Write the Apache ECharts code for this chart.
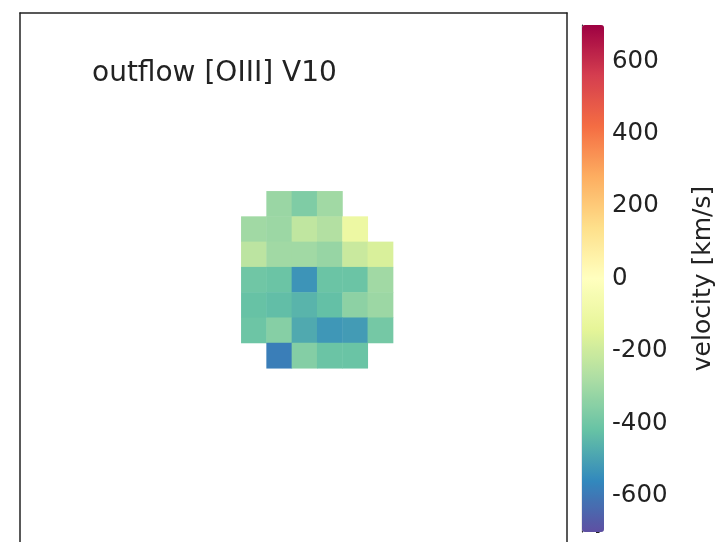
<!DOCTYPE html>
<html>
<head>
<meta charset="utf-8">
<script src="https://cdn.jsdelivr.net/npm/echarts@6/dist/echarts.min.js"></script>
<style>
  html, body { margin: 0; padding: 0; background: #fff; }
  #chart { width: 717px; height: 542px; }
</style>
</head>
<body>
<div id="chart"></div>
<script>
// pixel columns / rows of the map (only the part that holds data)
const cols = ['0', '1', '2', '3', '4', '5'];
const rows = ['0', '1', '2', '3', '4', '5', '6'];

// outflow velocity per row, null = masked pixel (km/s)
const row0 = [null, -315, -370, -300, null, null];
const row1 = [-300, -310, -230, -260, -100, null];
const row2 = [-240, -300, -300, -320, -210, -170];
const row3 = [-400, -410, -530, -410, -410, -300];
const row4 = [-418, -430, -455, -425, -340, -310];
const row5 = [-405, -355, -480, -525, -515, -390];
const row6 = [null, -585, -360, -410, -412, null];
const velRows = [row0, row1, row2, row3, row4, row5, row6];

const vMin = -700;
const vMax = 700;
const cbLabels = [-600, -400, -200, 0, 200, 400, 600];
// Spectral_r
const spectral = ['#5e4fa2', '#3288bd', '#66c2a5', '#abdda4', '#e6f598', '#ffffbf',
                  '#fee08b', '#fdae61', '#f46d43', '#d53e4f', '#9e0142'];

const data = [];
velRows.forEach((r, yi) => {
  r.forEach((v, xi) => {
    if (v !== null) data.push([xi, yi, v]);
  });
});

const font = 'DejaVu Sans';
const ink = '#222';
const frameLine = { show: true, onZero: false, lineStyle: { color: ink, width: 1.5 } };
const chart = echarts.init(document.getElementById('chart'));

chart.setOption({
  animation: false,
  backgroundColor: '#fff',
  title: {
    text: 'outflow [OIII] V10',
    left: 87,
    top: 55,
    textStyle: { fontFamily: font, fontSize: 28, fontWeight: 'normal', color: ink }
  },
  grid: [
    // frame of the image axes (runs past the bottom of the picture)
    { left: 20, top: 13, width: 547, height: 600 },
    // data pixels
    { left: 241.3, top: 191.3, width: 151.8, height: 177 },
    // colorbar axis
    { left: 582, top: 25, width: 22, height: 507 }
  ],
  xAxis: [
    { gridIndex: 0, type: 'value', position: 'top', axisLine: frameLine,
      axisTick: { show: false }, axisLabel: { show: false }, splitLine: { show: false } },
    { gridIndex: 1, type: 'category', data: cols, show: false },
    { gridIndex: 2, type: 'value', show: false }
  ],
  yAxis: [
    { gridIndex: 0, type: 'value', position: 'left', axisLine: frameLine,
      axisTick: { show: false }, axisLabel: { show: false }, splitLine: { show: false } },
    { gridIndex: 0, type: 'value', position: 'right', axisLine: frameLine,
      axisTick: { show: false }, axisLabel: { show: false }, splitLine: { show: false } },
    { gridIndex: 1, type: 'category', data: rows, inverse: true, show: false },
    {
      gridIndex: 2, type: 'value', position: 'right', min: vMin, max: vMax,
      splitLine: { show: false },
      axisLine: { show: true, lineStyle: { color: ink, width: 1.2 } },
      axisTick: { show: true, length: 6, customValues: cbLabels, lineStyle: { color: ink, width: 1.2 } },
      axisLabel: {
        customValues: cbLabels, margin: 16, fontFamily: font, fontSize: 24.5, color: ink
      },
      name: 'velocity [km/s]',
      nameLocation: 'middle',
      nameRotate: 90,
      nameGap: 95,
      nameTextStyle: { fontFamily: font, fontSize: 25, color: ink }
    },
    {
      gridIndex: 2, type: 'value', position: 'right', min: vMin, max: vMax, interval: 50,
      splitLine: { show: false },
      axisLine: { show: false },
      axisTick: { show: true, length: 3.5, lineStyle: { color: ink, width: 1 } },
      axisLabel: { show: false }
    }
  ],
  visualMap: {
    type: 'continuous',
    min: vMin,
    max: vMax,
    seriesIndex: 0,
    calculable: false,
    showLabel: false,
    left: 582,
    top: 25,
    padding: 0,
    itemWidth: 22,
    itemHeight: 507,
    inRange: { color: spectral }
  },
  series: [{
    type: 'heatmap',
    xAxisIndex: 1,
    yAxisIndex: 2,
    data: data,
    itemStyle: { borderWidth: 0 },
    emphasis: { disabled: true }
  }]
});
</script>
</body>
</html>
